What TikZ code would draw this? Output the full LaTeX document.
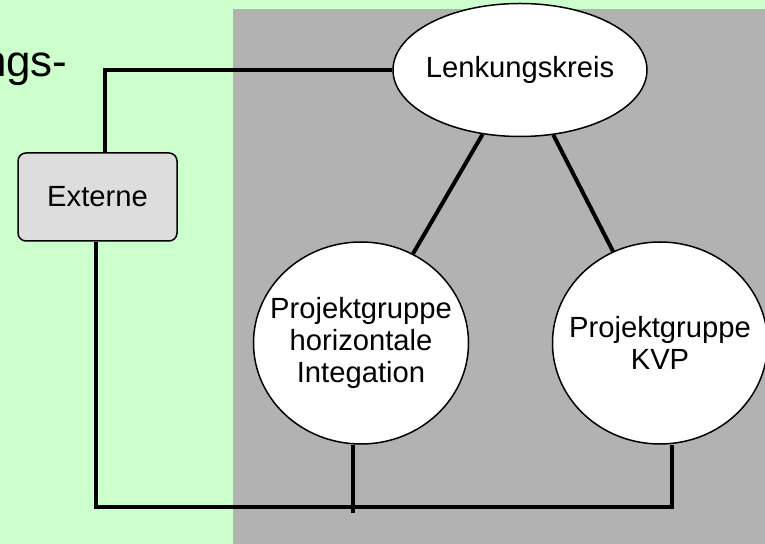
\documentclass[tikz,border=0pt]{standalone}
\usepackage{fontspec}
\setmainfont{Liberation Sans}
\usepackage{tikz}
\usetikzlibrary{shapes.geometric,positioning}
\definecolor{bggreen}{HTML}{CCFFCC}
\definecolor{bggray}{HTML}{B2B2B2}
\definecolor{extfill}{HTML}{DDDDDD}

\begin{document}
\begin{tikzpicture}[
      x=0.5pt, y=-0.5pt,
      font=\fontsize{14.6}{16}\selectfont,
      group/.style={ellipse, draw, line width=0.75pt, fill=white,
        inner xsep=-12pt, inner ysep=0pt, align=center},
      extbox/.style={draw, line width=0.75pt, fill=extfill, rounded corners=4pt,
        minimum width=79.5pt, minimum height=44pt},
      wire/.style={draw, line width=2pt}
  ]
  \useasboundingbox (0,0) rectangle (765,544);
  \clip (0,0) rectangle (765,544);
  \fill[bggreen] (0,0) rectangle (765,544);
  \fill[bggray] (233,9) rectangle (765,544);
  \node[anchor=base east, inner sep=0, font=\fontsize{22}{26}\selectfont] (cut) at (68,77) {ngs-};
  \node[group, minimum width=127pt, minimum height=66.5pt] (lenk) at (520,70) {Lenkungskreis};
  \node[extbox] (ext) at (97.5,197) {Externe};
  \node[group, minimum width=107.5pt, minimum height=101pt] (pgh) at (361,343)
    {Projektgruppe\\horizontale\\Integation};
  \node[group, minimum width=107.5pt, minimum height=101pt] (pgk) at (660,343)
    {Projektgruppe\\KVP};
  \coordinate (bl) at (96,507);
  \coordinate (br) at (672,507);
  % connectors
  \draw[wire] (lenk.west) -| ([xshift=3.75pt]ext.north);
  \draw[wire] (lenk) -- (pgh);
  \draw[wire] (lenk) -- (pgk);
  \draw[wire] ([xshift=-0.75pt]ext.south) -- (bl) -- (br) -- ([xshift=6pt]pgk.south);
  \draw[wire] ([xshift=-4pt]pgh.south) -- ++(0,68);
\end{tikzpicture}
\end{document}
